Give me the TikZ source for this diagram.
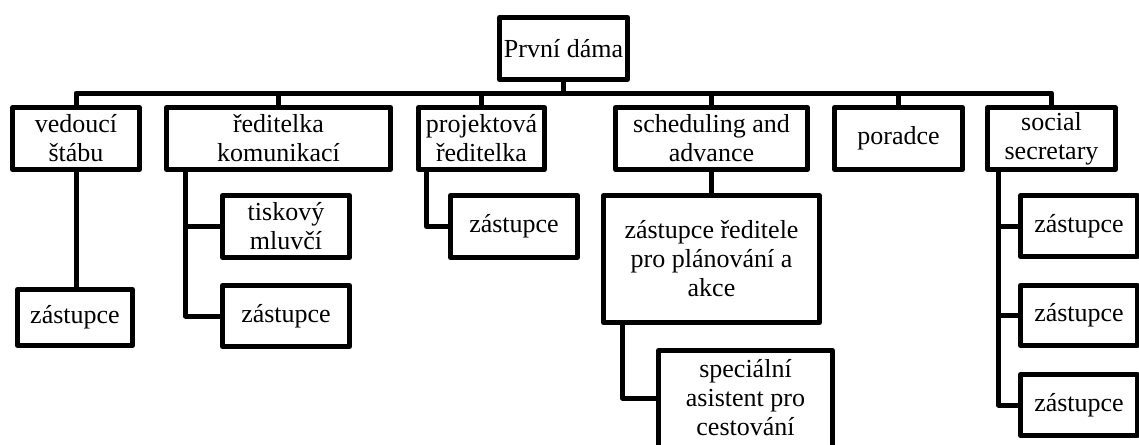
\documentclass[tikz,border=0pt]{standalone}
\usepackage{fontspec}
\setmainfont{Liberation Serif}
\begin{document}
\begin{tikzpicture}[x=1pt,y=-1pt,
  box/.style={draw=black, line width=5pt, line join=round, fill=white, inner sep=0pt, align=center,
    font=\fontsize{26}{29}\selectfont},
  txt/.style={inner sep=0pt, align=center, font=\fontsize{26}{29}\selectfont},
  conn/.style={draw=black, line width=5pt, line join=round}]
\useasboundingbox (0,0) rectangle (1139,444);
\clip (0,0) rectangle (1139,444);
% top
\node[box, minimum width=128pt, minimum height=62pt] (top) at (563.5,48.5) {První dáma};
% level 1
\node[box, minimum width=127pt, minimum height=62pt] (ved) at (76,138.5) {vedoucí\\štábu};
\node[box, minimum width=224pt, minimum height=62pt] (red) at (278.5,138.5) {ředitelka\\komunikací};
\node[box, minimum width=126pt, minimum height=62pt] (proj) at (481.5,138.5) {projektová\\ředitelka};
\node[box, minimum width=192pt, minimum height=62pt] (sch) at (711.5,138.5) {scheduling and\\advance};
\node[box, minimum width=128pt, minimum height=62pt] (por) at (898.5,138.5) {poradce};
\node[box, minimum width=128pt, minimum height=62pt] (soc) at (1051.5,138.5) {social\\secretary};
% level 2
\node[box, minimum width=115pt, minimum height=56pt] (vz) at (75,317.5) {zástupce};
\node[box, minimum width=127pt, minimum height=62pt] (tisk) at (286,226.5) {tiskový\\mluvčí};
\node[box, minimum width=127pt, minimum height=61pt] (rz) at (286,316) {zástupce};
\node[box, minimum width=127pt, minimum height=62pt] (pz) at (514,226.5) {zástupce};
\node[box, minimum width=216pt, minimum height=127pt] (zr) at (711.5,259) {zástupce ředitele\\pro plánování a\\akce};
\node[box, minimum width=174pt, minimum height=117pt] (sp) at (745.5,409) {};
\node[txt] (spt) at (745.5,398) {speciální\\asistent pro\\cestování};
\node[box, minimum width=117pt, minimum height=61pt] (s1) at (1079,226) {zástupce};
\node[box, minimum width=117pt, minimum height=60pt] (s2) at (1079,315.5) {zástupce};
\node[box, minimum width=117pt, minimum height=61pt] (s3) at (1079,405) {zástupce};
% bus
\coordinate (bus) at (0,93);
\draw[conn] (ved.north) -- (ved.north |- bus) -- (soc.north |- bus) -- (soc.north);
\draw[conn] (top.south) -- (top.south |- bus);
\draw[conn] (red.north) -- (red.north |- bus);
\draw[conn] (proj.north) -- (proj.north |- bus);
\draw[conn] (sch.north) -- (sch.north |- bus);
\draw[conn] (por.north) -- (por.north |- bus);
% children
\draw[conn] (ved.south) -- (ved.south |- vz.north);
\draw[conn] ([xshift=21.5pt]red.south west) |- (tisk.west);
\draw[conn] ([xshift=21.5pt]red.south west) |- (rz.west);
\draw[conn] ([xshift=10.5pt]proj.south west) |- (pz.west);
\draw[conn] (sch.south) -- (zr.north);
\draw[conn] ([xshift=21.5pt]zr.south west) |- (spt -| sp.west);
\draw[conn] ([xshift=13.5pt]soc.south west) |- (s1.west);
\draw[conn] ([xshift=13.5pt]soc.south west) |- (s2.west);
\draw[conn] ([xshift=13.5pt]soc.south west) |- (s3.west);
\end{tikzpicture}
\end{document}
